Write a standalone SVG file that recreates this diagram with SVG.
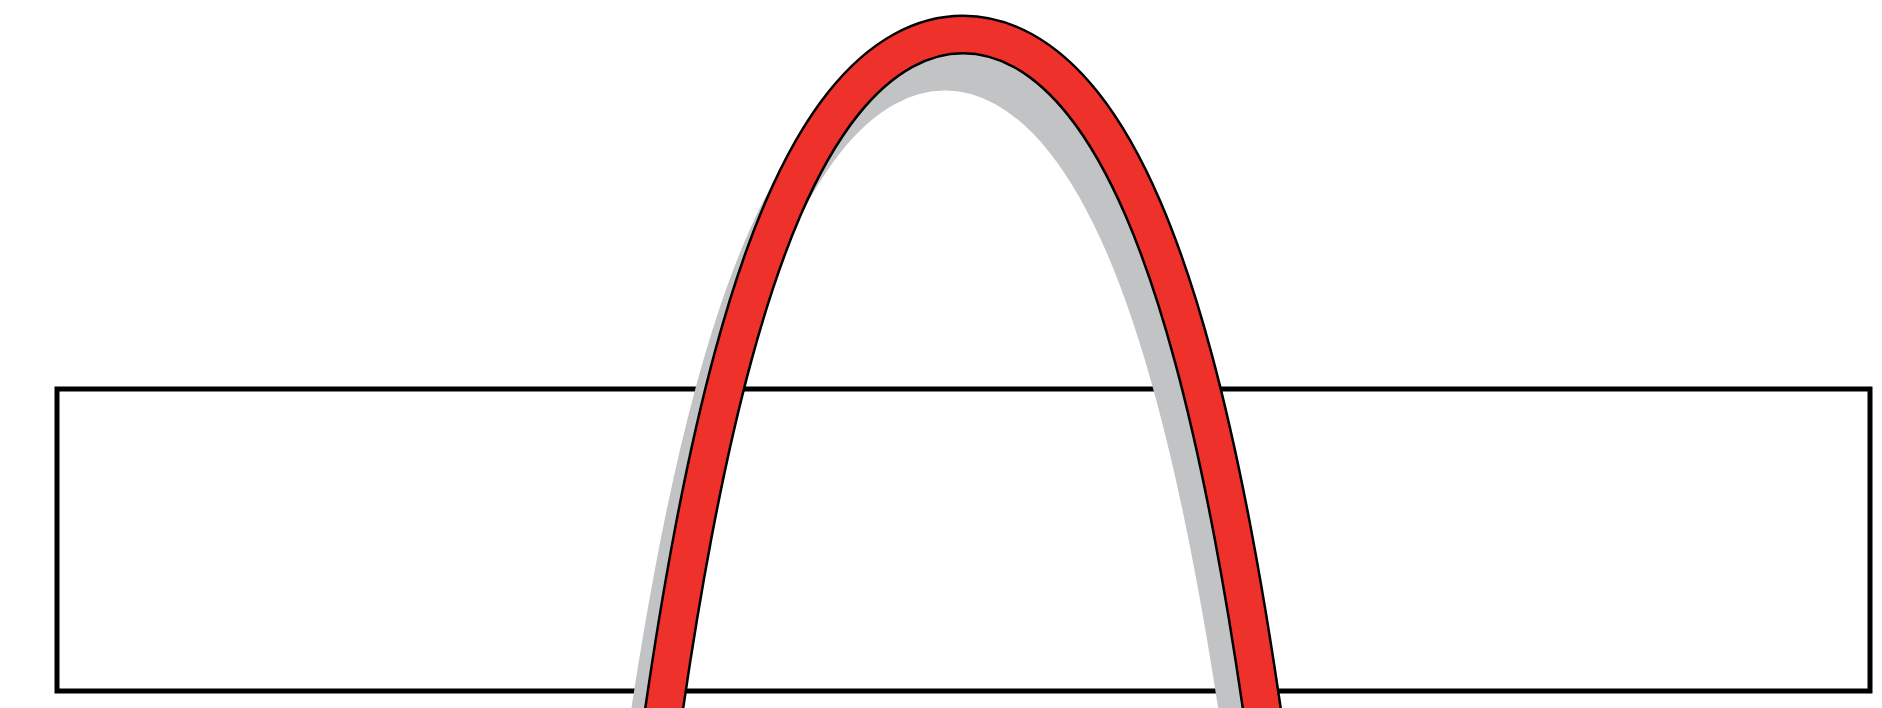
<svg xmlns="http://www.w3.org/2000/svg" xmlns:xlink="http://www.w3.org/1999/xlink" width="1882" height="708" viewBox="0 0 1882 708">
  <style>
    .frame { fill: #ffffff; stroke: #000000; stroke-width: 5; }
    .shadow { fill: none; stroke: #c2c3c5; stroke-width: 40; }
    .outline { fill: none; stroke: #000000; stroke-width: 40; }
    .band { fill: none; stroke: #ee312b; stroke-width: 35; }
  </style>
  <defs>
    <path id="archPath" d="M 658,752 C 669.67,667.71 681.33,596.36 693,534.6 C 706.33,464.01 719.67,405.94 733,356.7 C 749.67,295.15 766.33,247.34 783,208.65 C 803,162.22 823,128.86 843,103.7 C 863,78.54 883,61.67 903,50.65 C 923,39.63 943,34.5 963,34.5 C 983,34.5 1003,39.63 1023,50.65 C 1043,61.67 1063,78.54 1083,103.7 C 1103,128.86 1123,162.22 1143,208.65 C 1159.67,247.34 1176.33,295.15 1193,356.7 C 1206.33,405.94 1219.67,464.01 1233,534.6 C 1244.67,596.36 1256.33,667.71 1268,752"/>
  </defs>
  <rect width="1882" height="708" fill="#ffffff"/>
  <g id="frame">
    <rect class="frame" x="57" y="389" width="1813" height="302"/>
  </g>
  <g id="arch">
    <use xlink:href="#archPath" href="#archPath" class="shadow" transform="translate(-18,36)"/>
    <use xlink:href="#archPath" href="#archPath" class="outline"/>
    <use xlink:href="#archPath" href="#archPath" class="band"/>
  </g>
  <g id="connectors"></g>
</svg>
